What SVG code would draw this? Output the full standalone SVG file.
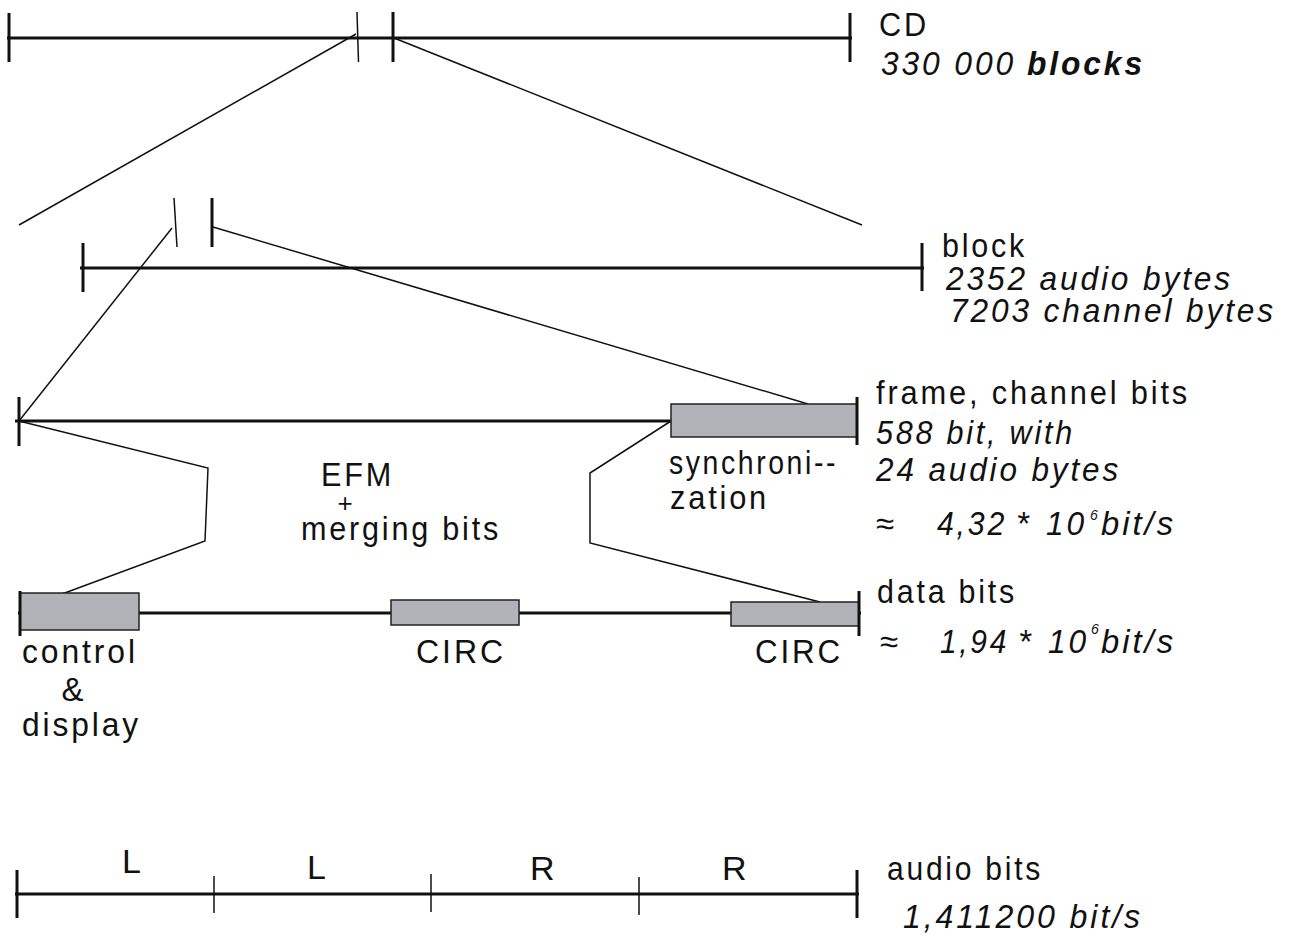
<svg xmlns="http://www.w3.org/2000/svg" width="1289" height="944" viewBox="0 0 1289 944">
<style>
.axis{stroke:#111;stroke-width:3;fill:none}
.tick{stroke:#111;stroke-width:3}
.thin{stroke:#111;stroke-width:1.5}
.conn{stroke:#111;stroke-width:1.5;fill:none}
.box{fill:#b2b3b8;stroke:#222;stroke-width:1.5}
text{font-family:"Liberation Sans",Arial,sans-serif;font-size:33px;fill:#111;letter-spacing:3px}
.i{font-style:italic}
.b{font-weight:bold}
.sup{font-size:14px;font-style:italic;letter-spacing:0}
.lr{font-size:34px}
.pl{font-size:26px;letter-spacing:0}
</style>
<rect width="1289" height="944" fill="#fff"/>
<g id="connectors">
<line class="conn" x1="356" y1="34" x2="19" y2="225"/>
<line class="conn" x1="394" y1="38" x2="862" y2="225"/>
<line class="conn" x1="172" y1="228" x2="19" y2="421"/>
<line class="conn" x1="213" y1="227" x2="808" y2="404"/>
<polyline class="conn" points="19,421 208,468 205,541 62,594"/>
<polyline class="conn" points="671,421 590,473 590,543 820,602"/>
</g>
<g id="cd">
<line class="axis" x1="7" y1="38" x2="852" y2="38"/>
<line class="tick" x1="9" y1="13" x2="9" y2="62"/>
<line class="thin" x1="357" y1="12" x2="358.5" y2="62"/>
<line class="tick" x1="393" y1="12" x2="393" y2="62"/>
<line class="tick" x1="850" y1="13" x2="850" y2="62"/>
<text x="879" y="36" textLength="50" lengthAdjust="spacingAndGlyphs">CD</text>
<text y="75" class="i"><tspan x="881" textLength="135" lengthAdjust="spacingAndGlyphs">330 000</tspan><tspan class="b" x="1027" textLength="118" lengthAdjust="spacingAndGlyphs">blocks</tspan></text>
</g>
<g id="block">
<line class="axis" x1="80" y1="268" x2="924" y2="268"/>
<line class="tick" x1="83" y1="243" x2="83" y2="292"/>
<line class="tick" x1="922" y1="243" x2="922" y2="291"/>
<line class="thin" x1="174" y1="198" x2="177" y2="247"/>
<line class="tick" x1="212" y1="198" x2="212" y2="247"/>
<text x="942" y="257" textLength="85" lengthAdjust="spacingAndGlyphs">block</text>
<text x="946" y="290" class="i" textLength="287" lengthAdjust="spacingAndGlyphs">2352 audio bytes</text>
<text x="950" y="322" class="i" textLength="326" lengthAdjust="spacingAndGlyphs">7203 channel bytes</text>
</g>
<g id="frame">
<line class="axis" x1="15" y1="421" x2="858" y2="421"/>
<line class="tick" x1="19" y1="397" x2="19" y2="446"/>
<rect class="box" x="671" y="404" width="186" height="33"/>
<line class="tick" x1="857" y1="397" x2="857" y2="445"/>
<text x="669" y="474" textLength="169" lengthAdjust="spacingAndGlyphs">synchroni--</text>
<text x="670" y="509" textLength="99" lengthAdjust="spacingAndGlyphs">zation</text>
<text x="876" y="404" textLength="314" lengthAdjust="spacingAndGlyphs">frame, channel bits</text>
<text x="876" y="444" class="i" textLength="199" lengthAdjust="spacingAndGlyphs">588 bit, with</text>
<text x="876" y="481" class="i" textLength="245" lengthAdjust="spacingAndGlyphs">24 audio bytes</text>
<text x="876" y="535">≈</text>
<text y="535" class="i"><tspan x="937" textLength="70" lengthAdjust="spacingAndGlyphs">4,32</tspan><tspan x="1016">*</tspan><tspan x="1046" textLength="41" lengthAdjust="spacingAndGlyphs">10</tspan></text>
<text x="1090" y="520" class="sup">6</text>
<text x="1101" y="535" class="i" textLength="75" lengthAdjust="spacingAndGlyphs">bit/s</text>
</g>
<g id="efm">
<text x="321" y="486" textLength="73" lengthAdjust="spacingAndGlyphs">EFM</text>
<text x="345" y="512" class="pl" text-anchor="middle">+</text>
<text x="301" y="540" textLength="200" lengthAdjust="spacingAndGlyphs">merging bits</text>
</g>
<g id="data">
<line class="axis" x1="18" y1="613" x2="861" y2="613"/>
<rect class="box" x="20" y="593" width="119" height="37"/>
<rect class="box" x="391" y="600" width="128" height="25"/>
<rect class="box" x="731" y="602" width="128" height="24"/>
<line class="tick" x1="20" y1="591" x2="20" y2="636"/>
<line class="tick" x1="859" y1="591" x2="859" y2="636"/>
<text x="22" y="663" textLength="116" lengthAdjust="spacingAndGlyphs">control</text>
<text x="74" y="701" text-anchor="middle">&amp;</text>
<text x="22" y="736" textLength="119" lengthAdjust="spacingAndGlyphs">display</text>
<text x="416" y="663" textLength="90" lengthAdjust="spacingAndGlyphs">CIRC</text>
<text x="755" y="663" textLength="88" lengthAdjust="spacingAndGlyphs">CIRC</text>
<text x="877" y="603" textLength="140" lengthAdjust="spacingAndGlyphs">data bits</text>
<text x="880" y="653">≈</text>
<text y="653" class="i"><tspan x="940" textLength="69" lengthAdjust="spacingAndGlyphs">1,94</tspan><tspan x="1018">*</tspan><tspan x="1048" textLength="41" lengthAdjust="spacingAndGlyphs">10</tspan></text>
<text x="1091" y="634" class="sup">6</text>
<text x="1101" y="653" class="i" textLength="75" lengthAdjust="spacingAndGlyphs">bit/s</text>
</g>
<g id="audio">
<line class="axis" x1="15" y1="894" x2="859" y2="894"/>
<line class="tick" x1="17" y1="870" x2="17" y2="918"/>
<line class="thin" x1="214" y1="876" x2="214" y2="913"/>
<line class="thin" x1="431" y1="874" x2="431" y2="912"/>
<line class="thin" x1="639" y1="877" x2="639" y2="915"/>
<line class="tick" x1="857" y1="870" x2="857" y2="918"/>
<text x="122" y="873" class="lr">L</text>
<text x="307" y="879" class="lr">L</text>
<text x="530" y="880" class="lr">R</text>
<text x="722" y="880" class="lr">R</text>
<text x="887" y="880" textLength="156" lengthAdjust="spacingAndGlyphs">audio bits</text>
<text x="903" y="928" class="i" textLength="240" lengthAdjust="spacingAndGlyphs">1,411200 bit/s</text>
</g>
</svg>
